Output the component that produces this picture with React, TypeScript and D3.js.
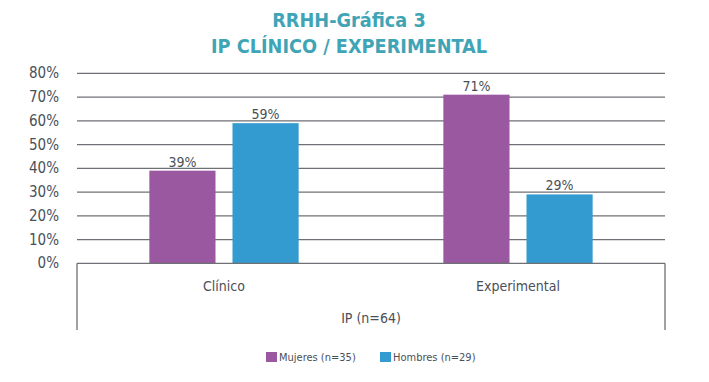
import React from "react";
import * as d3 from "d3";

const categories = ["Clínico", "Experimental"];
const seriesNames = ["Mujeres (n=35)", "Hombres (n=29)"];
const mujeres = [39, 71];
const hombres = [59, 29];
const yTicks = [0, 10, 20, 30, 40, 50, 60, 70, 80];
const titleLines = ["RRHH-Gráfica 3", "IP CLÍNICO / EXPERIMENTAL"];
const groupLabel = "IP (n=64)";
const colors = ["#9A58A1", "#339BCF"];

const W = 709, H = 382;
const left = 77, right = 665, top = 73.3, bottom = 263.3;
const FONT = "'DejaVu Sans Condensed', 'DejaVu Sans', sans-serif";
const TXT = "#4A5058";

export default function App() {
  const x = d3.scaleBand<string>().domain(categories).range([left, right]);
  const y = d3.scaleLinear().domain([0, 80]).range([bottom, top]);
  const bw = x.bandwidth() * 0.225;
  const gap = 17;
  const series = [mujeres, hombres];

  return (
    <svg width={W} height={H} style={{ position: "absolute", left: 0, top: 0, background: "#fff" }} fontFamily={FONT}>
      {titleLines.map((t, i) => (
        <text key={t} x={349} y={27 + i * 26} textAnchor="middle" fontSize={19.7} fontWeight="bold" fill="#3FA5B6">{t}</text>
      ))}
      {yTicks.map((t) => (
        <g key={t}>
          {t > 0 && <line x1={left} x2={right} y1={y(t)} y2={y(t)} stroke="#6E7076" strokeWidth={1.3} />}
          <text x={59} y={y(t) + 5} textAnchor="end" fontSize={15} fill={TXT}>{t}%</text>
        </g>
      ))}
      {categories.map((c, ci) => {
        const cx = x(c)! + x.bandwidth() / 2;
        return (
          <g key={c}>
            {series.map((s, si) => {
              const bx = si === 0 ? cx - gap / 2 - bw : cx + gap / 2;
              return (
                <g key={si}>
                  <rect x={bx} y={y(s[ci])} width={bw} height={bottom - y(s[ci])} fill={colors[si]} />
                  <text x={bx + bw / 2} y={y(s[ci]) - 4} textAnchor="middle" fontSize={14} fill={TXT}>{s[ci]}%</text>
                </g>
              );
            })}
            <text x={cx} y={291} textAnchor="middle" fontSize={14} fill={TXT}>{c}</text>
          </g>
        );
      })}
      <line x1={left} x2={right} y1={bottom} y2={bottom} stroke="#6E7076" strokeWidth={1.3} />
      <line x1={left} x2={left} y1={bottom} y2={330} stroke="#6E7076" strokeWidth={1.3} />
      <line x1={right} x2={right} y1={bottom} y2={330} stroke="#6E7076" strokeWidth={1.3} />
      <text x={(left + right) / 2} y={323} textAnchor="middle" fontSize={14} fill={TXT}>{groupLabel}</text>
      {seriesNames.map((n, i) => {
        const lx = i === 0 ? 266 : 380;
        return (
          <g key={n}>
            <rect x={lx} y={352} width={11} height={10} fill={colors[i]} />
            <text x={lx + 13} y={361} fontSize={11} fill={TXT}>{n}</text>
          </g>
        );
      })}
    </svg>
  );
}
